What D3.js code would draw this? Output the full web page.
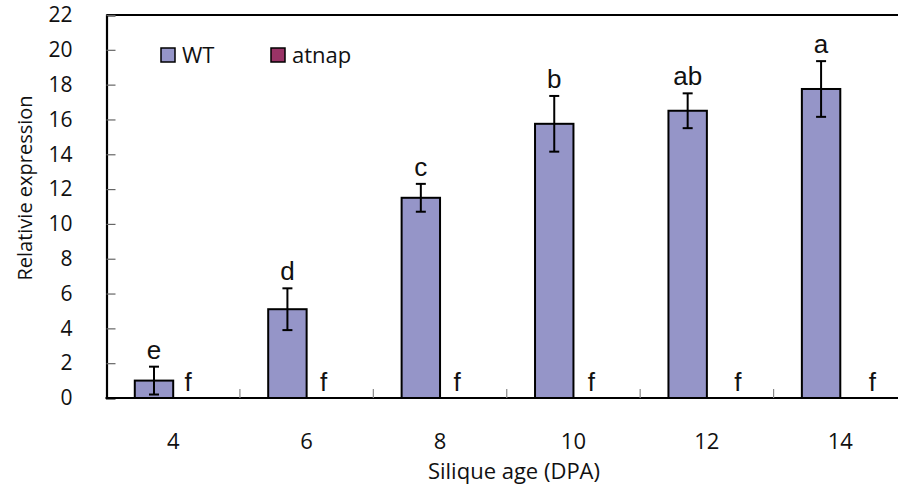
<!DOCTYPE html>
<html><head><meta charset="utf-8">
<script src="https://cdn.jsdelivr.net/npm/d3@7"></script>
<style>html,body{margin:0;padding:0;background:#fff;overflow:hidden}</style>
</head><body>
<svg id="chart" width="898" height="492"></svg>
<script>
const categories = ["4", "6", "8", "10", "12", "14"];
const seriesNames = ["WT", "atnap"];
const wtValues = [1.0, 5.1, 11.5, 15.75, 16.5, 17.75];
const wtErrors = [0.8, 1.2, 0.8, 1.6, 1.0, 1.6];
const atnapValues = [0, 0, 0, 0, 0, 0];
const wtLetters = ["e", "d", "c", "b", "ab", "a"];
const atnapLetters = ["f", "f", "f", "f", "f", "f"];
const yTicks = [0, 2, 4, 6, 8, 10, 12, 14, 16, 18, 20, 22];

// layout
const fLabelDx = [15, 17, 17, 18, 31, 32];
const colors = {WT: "#9595c8", atnap: "#993366"};
const margin = {left: 106.5, top: 15, right: -9, bottom: 94};
const W = 898, H = 492;
const svg = d3.select("#chart");

const x = d3.scaleBand().domain(categories).range([margin.left, W - margin.right]).paddingInner(0).paddingOuter(0);
const y = d3.scaleLinear().domain([0, 22]).range([H - margin.bottom, margin.top]);
const barW = x.bandwidth() * 0.288;

// plot frame (top/right)
svg.append("path")
  .attr("d", `M${margin.left},${margin.top}H${W - margin.right}V${y(0)}`)
  .attr("fill", "none").attr("stroke", "#000").attr("stroke-width", 2);

// y axis
const yAxis = svg.append("g").attr("transform", `translate(${margin.left},0)`)
  .call(d3.axisLeft(y).tickValues(yTicks).tickSize(-9).tickPadding(34));
yAxis.select(".domain").attr("stroke", "#000").attr("stroke-width", 2.2);
yAxis.selectAll(".tick line").attr("stroke", "#666").attr("stroke-width", 1.2);
yAxis.selectAll(".tick text").attr("font-family", "'Open Sans'").attr("font-size", 21).attr("fill", "#111");

// x axis with boundary ticks
const xg = svg.append("g").attr("transform", `translate(0,${y(0)})`);
xg.append("line").attr("x1", margin.left - 1).attr("x2", W).attr("y1", 0).attr("y2", 0)
  .attr("stroke", "#000").attr("stroke-width", 2.2);
xg.selectAll(".bt").data(categories.slice(1)).join("line")
  .attr("x1", d => x(d)).attr("x2", d => x(d)).attr("y1", 0).attr("y2", -9)
  .attr("stroke", "#888").attr("stroke-width", 1.2);
xg.selectAll(".xl").data(categories).join("text")
  .attr("x", d => x(d) + x.bandwidth() / 2).attr("y", 50.5)
  .attr("text-anchor", "middle").attr("font-family", "'Open Sans'").attr("font-size", 22).attr("fill", "#111")
  .text(d => d);

// bars
const cx = d => x(d) + x.bandwidth() / 2;
svg.selectAll(".wt").data(categories).join("rect")
  .attr("x", d => cx(d) - barW).attr("width", barW)
  .attr("y", (d, i) => y(wtValues[i])).attr("height", (d, i) => y(0) - y(wtValues[i]))
  .attr("fill", colors.WT).attr("stroke", "#000").attr("stroke-width", 2);
svg.selectAll(".at").data(categories).join("rect")
  .attr("x", d => cx(d)).attr("width", barW)
  .attr("y", (d, i) => y(atnapValues[i])).attr("height", (d, i) => y(0) - y(atnapValues[i]))
  .attr("fill", colors.atnap).attr("stroke", "none");

// error bars
const eb = svg.append("g").attr("stroke", "#000").attr("stroke-width", 2);
categories.forEach((c, i) => {
  const bx = cx(c) - barW / 2;
  const t = y(wtValues[i] + wtErrors[i]), b = y(wtValues[i] - wtErrors[i]);
  eb.append("line").attr("x1", bx).attr("x2", bx).attr("y1", t).attr("y2", b);
  eb.append("line").attr("x1", bx - 5).attr("x2", bx + 5).attr("y1", t).attr("y2", t);
  eb.append("line").attr("x1", bx - 5).attr("x2", bx + 5).attr("y1", b).attr("y2", b);
});

// significance letters
svg.selectAll(".lw").data(categories).join("text")
  .attr("x", d => cx(d) - barW / 2).attr("y", (d, i) => y(wtValues[i] + wtErrors[i]) - 8)
  .attr("text-anchor", "middle").attr("font-family", "'Liberation Sans'").attr("font-size", 26).attr("fill", "#111")
  .text((d, i) => wtLetters[i]);
svg.selectAll(".la").data(categories).join("text")
  .attr("x", (d, i) => cx(d) + fLabelDx[i]).attr("y", y(0) - 7)
  .attr("text-anchor", "middle").attr("font-family", "'Liberation Sans'").attr("font-size", 26).attr("fill", "#111")
  .text((d, i) => atnapLetters[i]);

// legend
const leg = svg.append("g");
const legX = [161, 271];
seriesNames.forEach((s, i) => {
  leg.append("rect").attr("x", legX[i]).attr("y", 48).attr("width", 14).attr("height", 14)
    .attr("fill", colors[s]).attr("stroke", "#000").attr("stroke-width", 1.5);
  leg.append("text").attr("x", legX[i] + 21).attr("y", 63)
    .attr("font-family", "'Open Sans'").attr("font-size", 22).attr("fill", "#111").text(s);
});

// axis titles
svg.append("text").attr("x", 514).attr("y", 479).attr("text-anchor", "middle")
  .attr("font-family", "'Open Sans'").attr("font-size", 22).attr("fill", "#111").text("Silique age (DPA)");
svg.append("text").attr("transform", "translate(32,188) rotate(-90)").attr("text-anchor", "middle")
  .attr("font-family", "'Open Sans'").attr("font-size", 20).attr("fill", "#111").text("Relativie expression");
</script>
</body></html>
